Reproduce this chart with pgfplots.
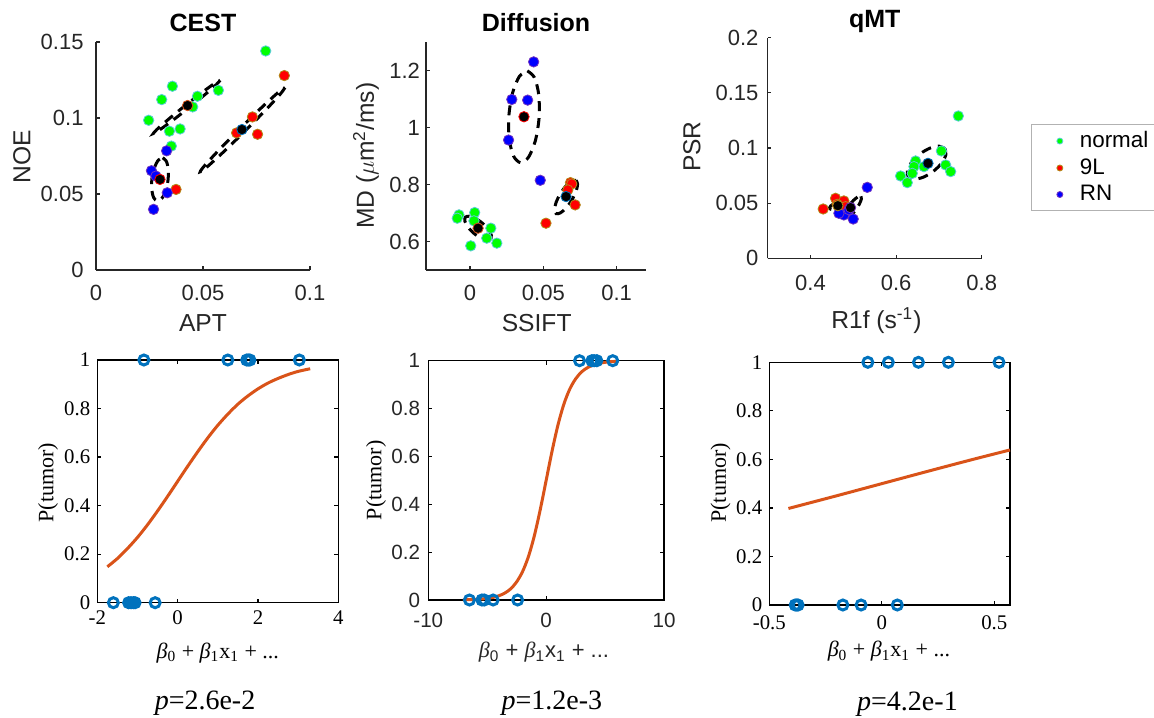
\documentclass[border=0pt]{standalone}
\usepackage{fontspec}
\setmainfont{Liberation Serif}
\setsansfont{Liberation Sans}
\usepackage{pgfplots}
\pgfplotsset{compat=1.18}
\definecolor{mgray}{rgb}{0.15,0.15,0.15}
\definecolor{mblue}{rgb}{0,0.447,0.741}
\definecolor{morange}{rgb}{0.85,0.325,0.098}
\definecolor{cgreen}{rgb}{0,1,0}
\definecolor{cred}{rgb}{1,0,0}
\definecolor{cblue}{rgb}{0,0,1}
\definecolor{egreen}{rgb}{0.35,0.8,0.85}
\definecolor{ered}{rgb}{0.7,0.55,0.1}
\definecolor{eblue}{rgb}{0.45,0.2,0.75}
\pgfplotsset{
  every axis title shift=0pt,
  topax/.style={
    scale only axis, anchor=south west, clip=false,
    axis lines*=left,
    axis line style={mgray, line width=0.6pt, -},
    every outer x axis line/.append style={-},
    every outer y axis line/.append style={-},
    tick align=inside, major tick length=1.8pt,
    tick style={mgray, line width=0.6pt},
    tick label style={font=\sffamily\fontsize{11}{13}\selectfont, text=mgray},
    label style={font=\sffamily\fontsize{12.3}{14}\selectfont, text=mgray},
    title style={font=\sffamily\bfseries\fontsize{12.5}{14}\selectfont, text=black, at={(axis description cs:0.5,1.045)}, anchor=base},
  },
  grp/.style={only marks, mark=*, mark size=2.6pt, mark options={line width=0.4pt}},
  ell/.style={black, line width=1.5pt, dash pattern=on 5pt off 3.5pt, smooth, mark=none, forget plot},
  botax/.style={
    scale only axis, anchor=south west, clip=false,
    axis line style={black, line width=0.6pt},
    tick align=inside, major tick length=2pt,
    tick style={black, line width=0.6pt},
    ymin=0, ymax=1, ytick={0,0.2,0.4,0.6,0.8,1}, yticklabels={0,0.2,0.4,0.6,0.8,1},
    tick label style={font=\rmfamily\fontsize{10.4}{12}\selectfont},
    label style={font=\rmfamily\fontsize{11}{13}\selectfont},
    ylabel={P(tumor)},
  },
  circ/.style={only marks, mark=o, mark size=2.5pt, mblue, mark options={line width=1.5pt}},
  fit/.style={morange, line width=1.5pt, smooth, mark=none},
}
\begin{document}
\begin{tikzpicture}
\useasboundingbox (0,0) rectangle (577pt,358.5pt);

% ---------------- CEST ----------------
\begin{axis}[topax, at={(48pt,223.5pt)}, width=107pt, height=114pt,
  xmin=0, xmax=0.1, ymin=0, ymax=0.15,
  xtick={0,0.05,0.1}, xticklabels={0,0.05,0.1},
  ytick={0,0.05,0.1,0.15}, yticklabels={0,0.05,0.1,0.15},
  xticklabel style={yshift=-3.8pt}, yticklabel style={xshift=-2.7pt},
  title={CEST}, xlabel={APT}, ylabel={NOE},
  xlabel style={at={(axis description cs:0.5,-0.268)}, anchor=base},
  ylabel style={at={(axis description cs:-0.346,0.496)}, anchor=center},
]
\addplot[ell] coordinates {(0.0580,0.1248) (0.05621,0.12196) (0.05072,0.11518) (0.0430,0.1063) (0.03512,0.09768) (0.02919,0.09164) (0.0268,0.0898) (0.02859,0.09264) (0.03408,0.09942) (0.0418,0.1083) (0.04968,0.11692) (0.05561,0.12296) (0.0580,0.1248)};
\addplot[ell] coordinates {(0.0883,0.1200) (0.0861,0.11569) (0.07918,0.10511) (0.0694,0.0911) (0.05938,0.07741) (0.0518,0.06771) (0.0487,0.0646) (0.0509,0.06891) (0.05782,0.07949) (0.0676,0.0935) (0.07762,0.10719) (0.0852,0.11689) (0.0883,0.1200)};
\addplot[ell] coordinates {(0.03115,0.07383) (0.03285,0.07159) (0.03377,0.06615) (0.03364,0.05894) (0.03251,0.05191) (0.03069,0.04695) (0.02865,0.04537) (0.02695,0.04761) (0.02603,0.05305) (0.02616,0.06026) (0.02729,0.06729) (0.02911,0.07225) (0.03115,0.07383)};
\addplot[grp, draw=egreen, fill=cgreen] coordinates {(0.0793,0.1441) (0.0572,0.1182) (0.0474,0.1143) (0.0452,0.1073) (0.0357,0.1209) (0.0307,0.1121) (0.0246,0.0985) (0.0343,0.0913) (0.0393,0.0928) (0.0352,0.0815)};
\addplot[grp, draw=ered, fill=cred] coordinates {(0.0880,0.1279) (0.0731,0.1007) (0.0657,0.0902) (0.0755,0.0893) (0.0374,0.0530)};
\addplot[grp, draw=eblue, fill=cblue] coordinates {(0.0330,0.0784) (0.0259,0.0653) (0.0280,0.0618) (0.0333,0.0508) (0.0269,0.0399)};
\addplot[grp, draw=morange, fill=black] coordinates {(0.0428,0.1082)};
\addplot[grp, draw=mblue, fill=black] coordinates {(0.0682,0.0924)};
\addplot[grp, draw=cred, fill=black] coordinates {(0.0299,0.0596)};
\end{axis}

% ---------------- Diffusion ----------------
\begin{axis}[topax, at={(213pt,223.5pt)}, width=110pt, height=114pt,
  xmin=-0.03, xmax=0.12, ymin=0.5, ymax=1.3,
  xtick={0,0.05,0.1}, xticklabels={0,0.05,0.1},
  ytick={0.6,0.8,1,1.2}, yticklabels={0.6,0.8,1,1.2},
  xticklabel style={yshift=-3.8pt}, yticklabel style={xshift=0.5pt},
  title={Diffusion}, xlabel={SSIFT}, ylabel={MD ($\mu$m\textsuperscript{2}/ms)},
  xlabel style={at={(axis description cs:0.503,-0.268)}, anchor=base},
  ylabel style={at={(axis description cs:-0.273,0.501)}, anchor=center},
]
\addplot[ell] coordinates {(0.03908,1.1988) (0.04392,1.17546) (0.04686,1.11522) (0.0471,1.0342) (0.04458,0.95412) (0.03998,0.89644) (0.03452,0.8766) (0.02968,0.89994) (0.02674,0.96018) (0.0265,1.0412) (0.02902,1.12128) (0.03362,1.17896) (0.03908,1.1988)};
\addplot[ell] coordinates {(0.07235,0.8148) (0.07337,0.80112) (0.07229,0.77547) (0.06938,0.7447) (0.06543,0.71707) (0.06151,0.69998) (0.05865,0.698) (0.05763,0.71168) (0.05871,0.73733) (0.06162,0.7681) (0.06557,0.79573) (0.06949,0.81282) (0.07235,0.8148)};
\addplot[ell] coordinates {(0.01418,0.6082) (0.01451,0.62211) (0.01241,0.64261) (0.00847,0.6642) (0.00373,0.68111) (-0.00053,0.68879) (-0.00318,0.6852) (-0.00351,0.67129) (-0.00141,0.65079) (0.00253,0.6292) (0.00727,0.61229) (0.01153,0.60461) (0.01418,0.6082)};
\addplot[grp, draw=egreen, fill=cgreen] coordinates {(-0.0075,0.6934) (-0.0087,0.6817) (0.0032,0.7016) (0.0027,0.6724) (0.0142,0.6467) (0.0114,0.6117) (0.0183,0.5942) (0.0005,0.5848)};
\addplot[grp, draw=ered, fill=cred] coordinates {(0.0685,0.8066) (0.0694,0.8019) (0.0667,0.7809) (0.0717,0.7284) (0.0518,0.6642)};
\addplot[grp, draw=eblue, fill=cblue] coordinates {(0.0434,1.2303) (0.0285,1.0984) (0.0393,1.0961) (0.0263,0.9560) (0.0479,0.8148)};
\addplot[grp, draw=morange, fill=black] coordinates {(0.0055,0.6467)};
\addplot[grp, draw=cred, fill=black] coordinates {(0.0368,1.0377)};
\addplot[grp, draw=mblue, fill=black] coordinates {(0.0655,0.7576)};
\end{axis}

% ---------------- qMT ----------------
\begin{axis}[topax, at={(383.85pt,229.35pt)}, width=107pt, height=110.3pt,
  xmin=0.3, xmax=0.8, ymin=0, ymax=0.2,
  xtick={0.4,0.6,0.8}, xticklabels={0.4,0.6,0.8},
  ytick={0,0.05,0.1,0.15,0.2}, yticklabels={0,0.05,0.1,0.15,0.2},
  xticklabel style={yshift=-4.7pt}, yticklabel style={xshift=-1.1pt},
  title={qMT}, xlabel={R1f (s\textsuperscript{-1})}, ylabel={PSR},
  xlabel style={at={(axis description cs:0.508,-0.316)}, anchor=base},
  ylabel style={at={(axis description cs:-0.354,0.506)}, anchor=center},
  legend style={at={(axis description cs:1.232,0.609)}, anchor=north west,
    draw=gray!60, line width=0.5pt, font=\sffamily\fontsize{11.2}{13}\selectfont,
    text=black, row sep=0pt, inner xsep=6pt, inner ysep=1.5pt},
  legend cell align=left,
  legend image code/.code={%
    \path[draw=none, fill=none] (0pt,-3pt) rectangle (16pt,3pt);
    \draw[mark repeat=2,mark phase=2,#1,mark size=1.5pt] plot coordinates {(0pt,0pt) (8pt,0pt) (16pt,0pt)};},
]
\addplot[ell] coordinates {(0.7142,0.0994) (0.71625,0.09375) (0.70626,0.08621) (0.6869,0.0788) (0.66336,0.07351) (0.64195,0.07175) (0.6284,0.074) (0.62635,0.07965) (0.63634,0.08719) (0.6557,0.0946) (0.67924,0.09989) (0.70065,0.10165) (0.7142,0.0994)};
\addplot[ell] coordinates {(0.4834,0.0497) (0.48079,0.04793) (0.47365,0.0461) (0.4639,0.0447) (0.45415,0.0441) (0.44701,0.04447) (0.4444,0.0457) (0.44701,0.04747) (0.45415,0.0493) (0.4639,0.0507) (0.47365,0.0513) (0.48079,0.05093) (0.4834,0.0497)};
\addplot[ell] coordinates {(0.5178,0.0562) (0.51872,0.05364) (0.51375,0.04884) (0.5042,0.0431) (0.49265,0.03794) (0.48218,0.03476) (0.4756,0.0344) (0.47468,0.03696) (0.47965,0.04176) (0.4892,0.0475) (0.50075,0.05266) (0.51122,0.05584) (0.5178,0.0562)};
\addplot[grp, draw=egreen, fill=cgreen] coordinates {(0.7454,0.1290) (0.7057,0.0973) (0.7158,0.0846) (0.7275,0.0786) (0.6456,0.0882) (0.6417,0.0831) (0.6651,0.0831) (0.6378,0.0770) (0.6105,0.0746) (0.6261,0.0686)};
\addlegendentry{normal}
\addplot[grp, draw=ered, fill=cred] coordinates {(0.4296,0.0447) (0.4585,0.0544) (0.4780,0.0520) (0.4624,0.0489) (0.4819,0.0468)};
\addlegendentry{9L}
\addplot[grp, draw=eblue, fill=cblue] coordinates {(0.5326,0.0643) (0.4998,0.0356) (0.4780,0.0393) (0.4663,0.0408) (0.4900,0.0440)};
\addlegendentry{RN}
\addplot[grp, draw=mblue, fill=black, forget plot] coordinates {(0.6745,0.0861)};
\addplot[grp, draw=ered, fill=black, forget plot] coordinates {(0.4639,0.0477)};
\addplot[grp, draw=eblue, fill=black, forget plot] coordinates {(0.4936,0.0459)};
\end{axis}

% ---------------- bottom 1 ----------------
\begin{axis}[botax, at={(48.65pt,57.15pt)}, width=120.5pt, height=121.35pt,
  xmin=-2, xmax=4, xtick={-2,0,2,4}, xticklabels={-2,0,2,4},
  xticklabel style={yshift=-0.5pt},
  xlabel={{\itshape β}\textsubscript{0} + {\itshape β}\textsubscript{1}x\textsubscript{1} + ...},
  xlabel style={at={(axis description cs:0.5,-0.228)}, anchor=base},
  ylabel style={at={(axis description cs:-0.2046,0.494)}, anchor=center},
]
\addplot[circ] coordinates {(-0.84,1) (1.25,1) (1.72,1) (1.76,1) (1.80,1) (3.03,1) (-1.60,0) (-1.22,0) (-1.16,0) (-1.10,0) (-1.06,0) (-0.56,0)};
\addplot[fit] coordinates {(-1.75,0.148) (-1.5,0.182) (-1.25,0.223) (-1,0.269) (-0.75,0.321) (-0.5,0.378) (-0.25,0.438) (0,0.5) (0.25,0.562) (0.5,0.622) (0.75,0.679) (1,0.731) (1.25,0.777) (1.5,0.818) (1.75,0.852) (2,0.881) (2.25,0.905) (2.5,0.924) (2.75,0.940) (3,0.953) (3.3,0.964)};
\node[font=\rmfamily\fontsize{14}{16}\selectfont, anchor=base] at (axis description cs:0.447,-0.439) {\textit{p}=2.6e-2};
\end{axis}

% ---------------- bottom 2 ----------------
\begin{axis}[botax, at={(214.15pt,58.5pt)}, width=117.85pt, height=119.65pt,
  xmin=-10, xmax=10, xtick={-10,0,10}, xticklabels={-10,0,10},
  tick label style={font=\sffamily\fontsize{10.3}{12}\selectfont, text=mgray},
  xticklabel style={yshift=-3pt}, yticklabel style={xshift=-0.6pt},
  xlabel={{\rmfamily\itshape β}\textsubscript{0} + {\rmfamily\itshape β}\textsubscript{1}x\textsubscript{1} + ...},
  xlabel style={font=\sffamily\fontsize{11}{13}\selectfont, text=mgray, at={(axis description cs:0.491,-0.242)}, anchor=base},
  ylabel style={at={(axis description cs:-0.222,0.5)}, anchor=center},
]
\addplot[circ] coordinates {(2.83,1) (3.88,1) (4.07,1) (4.30,1) (5.65,1) (-6.51,0) (-5.45,0) (-5.25,0) (-4.50,0) (-2.42,0)};
\addplot[fit] coordinates {(-7.07,0.0009) (-6,0.0025) (-5,0.0067) (-4.5,0.011) (-4,0.018) (-3.5,0.0293) (-3,0.047) (-2.5,0.076) (-2,0.119) (-1.5,0.182) (-1,0.269) (-0.5,0.378) (0,0.5) (0.5,0.622) (1,0.731) (1.5,0.818) (2,0.881) (2.5,0.924) (3,0.953) (3.5,0.9707) (4,0.982) (4.5,0.989) (5,0.9933) (5.5,0.9959) (6.14,0.9979)};
\node[font=\rmfamily\fontsize{14}{16}\selectfont, anchor=base] at (axis description cs:0.524,-0.457) {\textit{p}=1.2e-3};
\end{axis}

% ---------------- bottom 3 ----------------
\begin{axis}[botax, at={(384.65pt,56pt)}, width=120.35pt, height=121.35pt,
  xmin=-0.5, xmax=0.57, xtick={-0.5,0,0.5}, xticklabels={-0.5,0,0.5},
  xticklabel style={yshift=-2pt},
  xlabel={{\itshape β}\textsubscript{0} + {\itshape β}\textsubscript{1}x\textsubscript{1} + ...},
  xlabel style={at={(axis description cs:0.497,-0.214)}, anchor=base},
  ylabel style={at={(axis description cs:-0.202,0.503)}, anchor=center},
]
\addplot[circ] coordinates {(-0.062,1) (0.029,1) (0.163,1) (0.296,1) (0.521,1) (-0.385,0) (-0.378,0) (-0.372,0) (-0.173,0) (-0.092,0) (0.069,0)};
\addplot[fit] coordinates {(-0.415,0.3977) (-0.2,0.4502) (0,0.5) (0.2,0.5498) (0.4,0.5987) (0.57,0.6388)};
\node[font=\rmfamily\fontsize{14}{16}\selectfont, anchor=base] at (axis description cs:0.574,-0.433) {\textit{p}=4.2e-1};
\end{axis}
\end{tikzpicture}
\end{document}
